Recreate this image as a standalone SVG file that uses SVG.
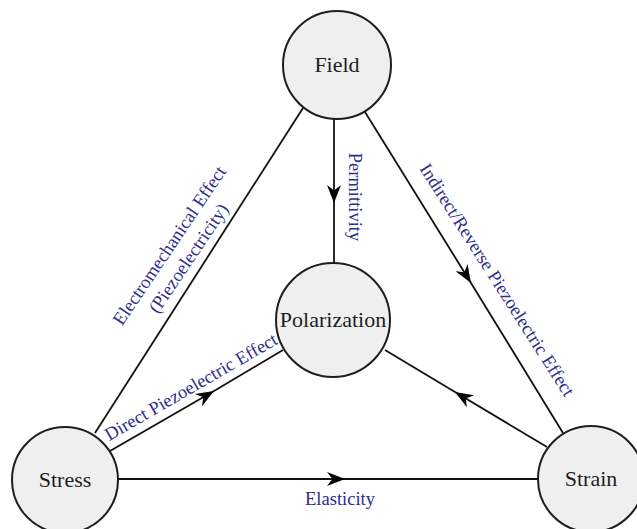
<svg xmlns="http://www.w3.org/2000/svg" width="637" height="529" viewBox="0 0 637 529">
<style>
.node circle{fill:#efefef;stroke:#1e1e1e;stroke-width:2}
.node text{font-family:"Liberation Serif",serif;font-size:22px;fill:#1e1e1e;text-anchor:middle}
.edge{stroke:#111;stroke-width:1.8;fill:none}
.lbl{font-family:"Liberation Serif",serif;font-size:18.5px;fill:#2e2e8c;text-anchor:middle}
</style>
<defs>
<marker id="ah" viewBox="-19 -8 20 16" markerWidth="20" markerHeight="16" refX="0" refY="0" orient="auto" markerUnits="userSpaceOnUse">
<path d="M0,0 L-18,-7 L-12.5,0 L-18,7 Z" fill="#000"/>
</marker>
</defs>
<rect width="637" height="529" fill="#fff"/>
<g id="connectors">
<path class="edge" d="M303,108 L95,433"/>
<path class="edge" d="M365,112 L471,283 L563,433" marker-mid="url(#ah)"/>
<path class="edge" d="M334,119 L334,203 L334,263" marker-mid="url(#ah)"/>
<path class="edge" d="M110,451 L214,391 L283,350" marker-mid="url(#ah)"/>
<path class="edge" d="M547,447 L455,392 L385,350" marker-mid="url(#ah)"/>
<path class="edge" d="M118,479 L345,479 L538,479" marker-mid="url(#ah)"/>
<g id="labels">
<text class="lbl" transform="translate(355,197) rotate(90)" y="6">Permittivity</text>
<text class="lbl" x="340" y="505">Elasticity</text>
<text class="lbl" transform="translate(179,252) rotate(-56)"><tspan x="0" y="-5.5">Electromechanical Effect</tspan><tspan x="0" y="17.5">(Piezoelectricity)</tspan></text>
<text class="lbl" transform="translate(497,280) rotate(57.5)" y="6">Indirect/Reverse Piezoelectric Effect</text>
<text class="lbl" transform="translate(191,387) rotate(-30)" y="6">Direct Piezoelectric Effect</text>
</g>
</g>
<g id="field" class="node"><circle cx="337" cy="65" r="54"/><text x="337" y="72">Field</text></g>
<g id="polarization" class="node"><circle cx="333" cy="320" r="57"/><text x="333" y="327">Polarization</text></g>
<g id="stress" class="node"><circle cx="65" cy="480" r="53"/><text x="65" y="487">Stress</text></g>
<g id="strain" class="node"><circle cx="591" cy="479" r="53"/><text x="591" y="486">Strain</text></g>
</svg>
